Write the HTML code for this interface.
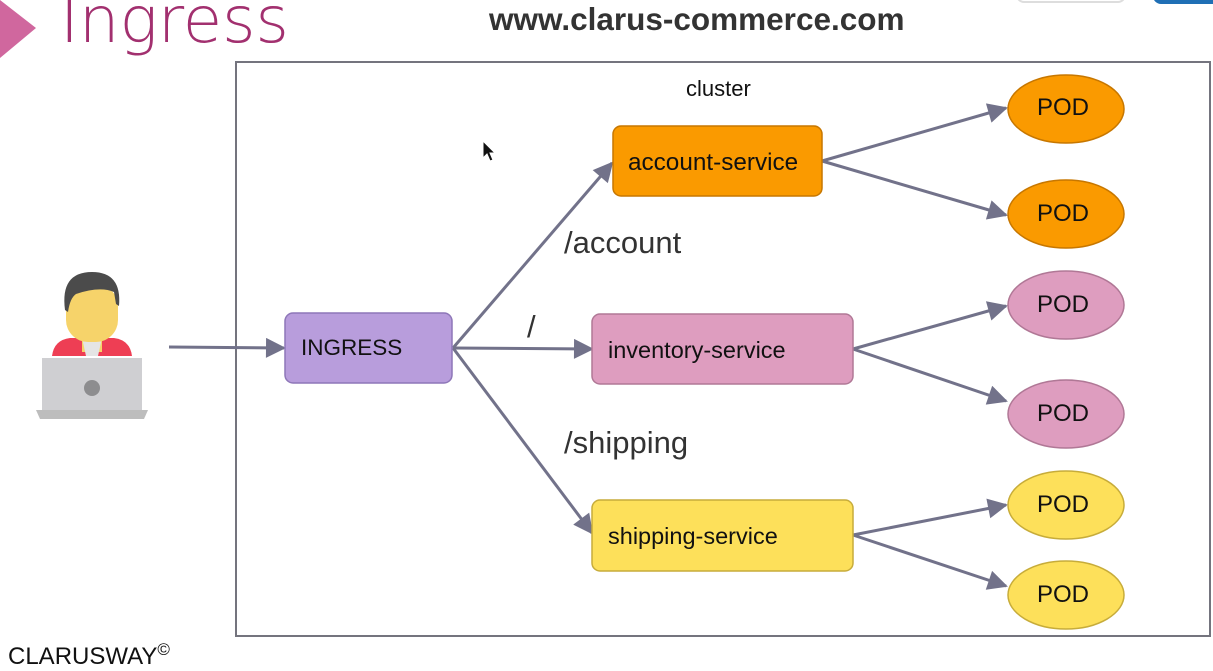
<!DOCTYPE html>
<html><head><meta charset="utf-8"><style>
body{margin:0;width:1213px;height:669px;background:#fff;overflow:hidden;position:relative;font-family:"Liberation Sans",sans-serif}
.t{position:absolute;white-space:nowrap}
</style></head><body>
<svg width="1213" height="669" style="position:absolute;left:0;top:0">
<defs>
<marker id="b" viewBox="0 0 10 10" markerWidth="24" markerHeight="20" refX="9" refY="5" orient="auto" markerUnits="userSpaceOnUse"><path d="M0,0 L10,5 L0,10 Z" fill="#72728a"/></marker></defs>
<polygon points="0,0 36,28 0,58" fill="#d0679e"/>
<rect x="1017" y="-12" width="108" height="14" rx="7" fill="#fff" stroke="#ddd" stroke-width="2"/>
<rect x="1153" y="-12" width="80" height="16" rx="8" fill="#1f6fb5"/>
<rect x="236" y="62" width="974" height="574" fill="none" stroke="#74747e" stroke-width="2"/>
<g stroke="#72728a" stroke-width="3" fill="none">
<line x1="169" y1="347" x2="284" y2="348" marker-end="url(#b)"/>
<line x1="453" y1="348" x2="612" y2="163" marker-end="url(#b)"/>
<line x1="453" y1="348" x2="592" y2="349" marker-end="url(#b)"/>
<line x1="453" y1="348" x2="592" y2="533" marker-end="url(#b)"/>
<line x1="822" y1="161" x2="1006" y2="108" marker-end="url(#b)"/>
<line x1="822" y1="161" x2="1006" y2="215" marker-end="url(#b)"/>
<line x1="853" y1="349" x2="1006" y2="306" marker-end="url(#b)"/>
<line x1="853" y1="349" x2="1006" y2="401" marker-end="url(#b)"/>
<line x1="853" y1="535" x2="1006" y2="505" marker-end="url(#b)"/>
<line x1="853" y1="535" x2="1006" y2="586" marker-end="url(#b)"/>
</g>
<rect x="285" y="313" width="167" height="70" rx="8" fill="#b89ddc" stroke="#8e77b8" stroke-width="1.5"/>
<rect x="613" y="126" width="209" height="70" rx="8" fill="#fa9a00" stroke="#c77700" stroke-width="1.5"/>
<rect x="592" y="314" width="261" height="70" rx="8" fill="#de9dbf" stroke="#b07896" stroke-width="1.5"/>
<rect x="592" y="500" width="261" height="71" rx="8" fill="#fde05a" stroke="#c7ac3a" stroke-width="1.5"/>
<g stroke-width="1.5">
<ellipse cx="1066" cy="109" rx="58" ry="34" fill="#fa9a00" stroke="#c77700"/>
<ellipse cx="1066" cy="214" rx="58" ry="34" fill="#fa9a00" stroke="#c77700"/>
<ellipse cx="1066" cy="305" rx="58" ry="34" fill="#de9dbf" stroke="#b07896"/>
<ellipse cx="1066" cy="414" rx="58" ry="34" fill="#de9dbf" stroke="#b07896"/>
<ellipse cx="1066" cy="505" rx="58" ry="34" fill="#fde05a" stroke="#c7ac3a"/>
<ellipse cx="1066" cy="595" rx="58" ry="34" fill="#fde05a" stroke="#c7ac3a"/>
</g>
<path d="M52,356 Q54,340 70,338 L114,338 Q130,340 132,356 Z" fill="#ee3e54"/>
<rect x="82" y="330" width="20" height="22" fill="#f6d36a"/>
<polygon points="82,338 102,338 98,356 86,356" fill="#e5e5e5"/>
<rect x="66" y="284" width="52" height="58" rx="22" fill="#f6d36a"/>
<path d="M65,310 Q60,272 92,272 Q122,272 119,306 L116,304 L114,292 Q100,286 76,294 Q70,298 68,312 Z" fill="#4b4b4b"/>
<rect x="42" y="358" width="100" height="54" fill="#cfcfd2"/>
<polygon points="36,410 148,410 144,419 40,419" fill="#bdbdbd"/>
<circle cx="92" cy="388" r="8" fill="#8d8d8f"/>
</svg>
<div class="t" style="left:60px;top:-16px;font-size:64px;color:#a2306f;font-family:'DejaVu Sans ExtraLight','DejaVu Sans',sans-serif;font-weight:200">Ingress</div>
<div class="t" style="left:489px;top:1px;font-size:31.5px;font-weight:bold;color:#333">www.clarus-commerce.com</div>
<div class="t" style="left:686px;top:76px;font-size:22px;color:#111">cluster</div>
<div class="t" style="left:301px;top:335px;font-size:22.5px;color:#111">INGRESS</div>
<div class="t" style="left:628px;top:149px;font-size:24.3px;color:#111">account-service</div>
<div class="t" style="left:608px;top:337px;font-size:23.5px;color:#111">inventory-service</div>
<div class="t" style="left:608px;top:523px;font-size:23.5px;color:#111">shipping-service</div>
<div class="t" style="left:564px;top:225px;font-size:31px;color:#333">/account</div>
<div class="t" style="left:527px;top:309px;font-size:31px;color:#333">/</div>
<div class="t" style="left:564px;top:425px;font-size:31px;color:#333">/shipping</div>
<div class="t" style="left:1037px;top:94px;font-size:24px;color:#111">POD</div>
<div class="t" style="left:1037px;top:200px;font-size:24px;color:#111">POD</div>
<div class="t" style="left:1037px;top:291px;font-size:24px;color:#111">POD</div>
<div class="t" style="left:1037px;top:400px;font-size:24px;color:#111">POD</div>
<div class="t" style="left:1037px;top:491px;font-size:24px;color:#111">POD</div>
<div class="t" style="left:1037px;top:581px;font-size:24px;color:#111">POD</div>
<div class="t" style="left:8px;top:640px;font-size:24px;color:#111">CLARUSWAY<sup style="font-size:17px">©</sup></div>
<svg width="14" height="24" style="position:absolute;left:482px;top:140px"><path d="M1,1 L1,18 L5,14 L8,21 L11,20 L8,13 L13,13 Z" fill="#111" stroke="#fff" stroke-width="1"/></svg>
</body></html>
